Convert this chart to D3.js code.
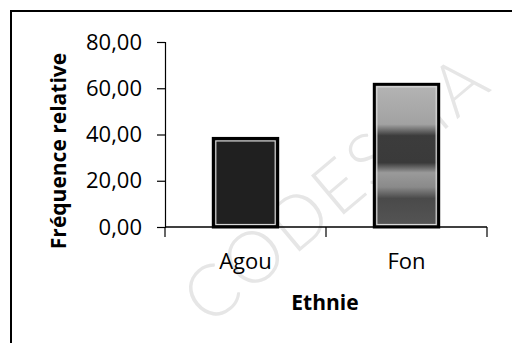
<!DOCTYPE html>
<html>
<head>
<meta charset="utf-8">
<script src="https://cdn.jsdelivr.net/npm/d3@7"></script>
<style>
  html, body { margin: 0; padding: 0; background: #fff; }
  svg { display: block; }
</style>
</head>
<body>
<div id="chart"></div>
<script>
// Relative frequency (%) by ethnic group
const categories = ["Agou", "Fon"];
const values = [38.3, 61.7];
const yTicks = [0, 20, 40, 60, 80];
const yTitle = "Fréquence relative";
const xTitle = "Ethnie";
const watermark = "CODESRIA";

const W = 512, H = 343;
const svg = d3.select("#chart").append("svg")
  .attr("width", W).attr("height", H);

const fr = d3.formatLocale({ decimal: ",", thousands: " ", grouping: [3], currency: ["", " €"] });
const fmt = fr.format(".2f");

const plot = { left: 165, right: 487, top: 42, bottom: 227 };

const y = d3.scaleLinear().domain([0, 80]).range([plot.bottom, plot.top]);
const xBand = d3.scaleBand().domain(categories).range([plot.left, plot.right]);
const xBar = d3.scaleBand().domain(categories).range([plot.left, plot.right])
  .paddingInner(0.6).paddingOuter(0.3);

// faint diagonal watermark behind everything
svg.append("text")
  .attr("transform", "translate(334,186) rotate(-40)")
  .attr("text-anchor", "middle")
  .attr("dominant-baseline", "central")
  .attr("font-family", "Lato, 'Open Sans', sans-serif")
  .attr("font-weight", 300)
  .attr("font-size", 72)
  .attr("letter-spacing", 3)
  .attr("fill", "#e6e6e6")
  .text(watermark);

// chart frame (left and top edges fall inside the page)
svg.append("path")
  .attr("d", `M11,${H} L11,11 L${W},11`)
  .attr("fill", "none").attr("stroke", "#000").attr("stroke-width", 2);

// fills for the two bars
const defs = svg.append("defs");
const gFon = defs.append("linearGradient").attr("id", "fonFill")
  .attr("x1", 0).attr("y1", 0).attr("x2", 0).attr("y2", 1);
[[0, "#b4b4b4"], [0.28, "#a2a2a2"], [0.36, "#3c3c3c"], [0.55, "#3a3a3a"],
 [0.62, "#9a9a9a"], [0.72, "#8a8a8a"], [0.8, "#4a4a4a"], [1, "#555"]]
  .forEach(([o, c]) => gFon.append("stop").attr("offset", o).attr("stop-color", c));
const fills = { Agou: "#202020", Fon: "url(#fonFill)" };

// bars
const bars = svg.append("g");
bars.selectAll("rect.bar").data(categories).join("rect")
  .attr("class", "bar")
  .attr("x", d => xBar(d))
  .attr("y", (d, i) => y(values[i]))
  .attr("width", xBar.bandwidth())
  .attr("height", (d, i) => y(0) - y(values[i]))
  .attr("fill", d => fills[d])
  .attr("stroke", "#000").attr("stroke-width", 3);
bars.selectAll("rect.inner").data(categories).join("rect")
  .attr("class", "inner")
  .attr("x", d => xBar(d) + 2.5)
  .attr("y", (d, i) => y(values[i]) + 2.5)
  .attr("width", xBar.bandwidth() - 5)
  .attr("height", (d, i) => y(0) - y(values[i]) - 5)
  .attr("fill", "none")
  .attr("stroke", "#d8d8d8").attr("stroke-width", 1.2);

// y axis
const yAxis = svg.append("g")
  .attr("transform", `translate(${plot.left},0)`)
  .call(d3.axisLeft(y).tickValues(yTicks).tickFormat(fmt).tickSize(8).tickPadding(15));
yAxis.select(".domain").attr("stroke", "#000").attr("stroke-width", 1.2);
yAxis.selectAll(".tick line").attr("stroke", "#000").attr("stroke-width", 1.2);
yAxis.selectAll(".tick text")
  .attr("font-family", "'Open Sans', sans-serif")
  .attr("font-size", 22).attr("fill", "#000");

// x axis: ticks at category boundaries
const xEdges = [plot.left, ...categories.map(c => xBand(c) + xBand.bandwidth())];
const xAxisG = svg.append("g");
xAxisG.append("line")
  .attr("x1", plot.left).attr("x2", plot.right)
  .attr("y1", y(0)).attr("y2", y(0))
  .attr("stroke", "#000").attr("stroke-width", 1.6);
xAxisG.selectAll("line.tick").data(xEdges).join("line")
  .attr("class", "tick")
  .attr("x1", d => d).attr("x2", d => d)
  .attr("y1", y(0)).attr("y2", y(0) + 10)
  .attr("stroke", "#000").attr("stroke-width", 1.2);
xAxisG.selectAll("text").data(categories).join("text")
  .attr("x", d => xBand(d) + xBand.bandwidth() / 2)
  .attr("y", 269)
  .attr("text-anchor", "middle")
  .attr("font-family", "'Open Sans', sans-serif")
  .attr("font-size", 22).attr("fill", "#000")
  .text(d => d);

// axis titles
svg.append("text")
  .attr("x", 325).attr("y", 310)
  .attr("text-anchor", "middle")
  .attr("font-family", "'Open Sans', sans-serif")
  .attr("font-weight", 700)
  .attr("font-size", 21).attr("fill", "#000")
  .text(xTitle);

svg.append("text")
  .attr("transform", "translate(66,151) rotate(-90)")
  .attr("text-anchor", "middle")
  .attr("font-family", "'Open Sans', sans-serif")
  .attr("font-weight", 700)
  .attr("font-size", 21).attr("fill", "#000")
  .text(yTitle);
</script>
</body>
</html>
